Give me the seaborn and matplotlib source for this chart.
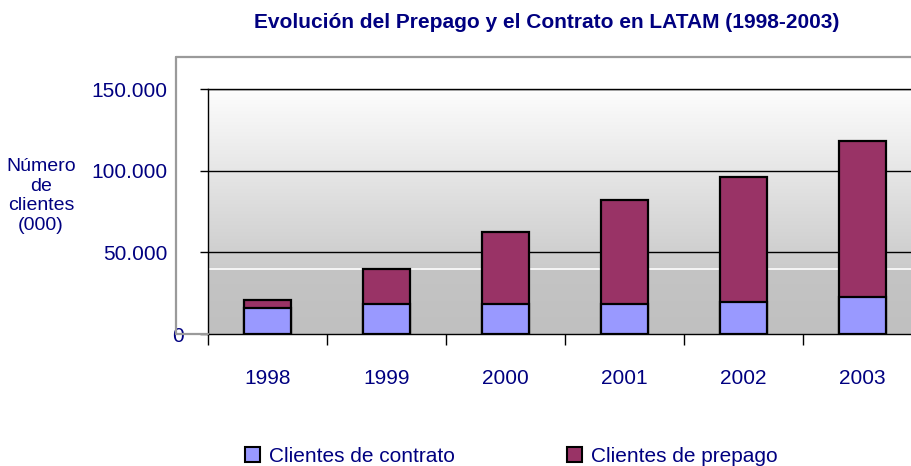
import numpy as np
import pandas as pd
import matplotlib
matplotlib.use("Agg")
import matplotlib.pyplot as plt
from matplotlib.patches import Patch
from matplotlib.lines import Line2D
from matplotlib.transforms import ScaledTranslation
import seaborn as sns

# data (thousands of clients)
years = ["1998", "1999", "2000", "2001", "2002", "2003"]
contrato = [16000, 18500, 18500, 18500, 19500, 22400]
prepago = [5000, 21600, 44100, 63700, 76500, 95900]
yticks = [0, 50000, 100000, 150000]
ytick_labels = ["0", "50.000", "100.000", "150.000"]

df = pd.DataFrame({"year": years, "contrato": contrato, "prepago": prepago})
df["total"] = df["contrato"] + df["prepago"]

sns.set_style("white")
plt.rcParams["font.family"] = ["Liberation Sans", "DejaVu Sans"]

navy = "#000080"
c_contrato = "#9999FF"
c_prepago = "#993366"

W, H = 911, 466
fig = plt.figure(figsize=(W / 100, H / 100), dpi=100)
ax = fig.add_axes([208 / W, 1 - 334 / H, 714 / W, (334 - 89) / H])

# gradient wall
grad = np.linspace(0, 1, 256).reshape(-1, 1)
ax.imshow(grad, cmap=matplotlib.colors.LinearSegmentedColormap.from_list(
    "wall", [(0, "#c0c0c0"), (0.27, "#c4c4c4"), (0.27, "#cbcbcb"), (1, "#fdfdfd")]),
    aspect="auto", extent=[-0.5, 5.5, 0, 150000], origin="lower", zorder=0)
ax.axhline(40000, color="white", lw=1.2, zorder=1)
for v in yticks[1:]:
    ax.axhline(v, color="black", lw=1.0, zorder=1)

sns.barplot(data=df, x="year", y="total", color=c_prepago, width=0.4,
            edgecolor="black", linewidth=1.6, saturation=1, ax=ax, zorder=3)
sns.barplot(data=df, x="year", y="contrato", color=c_contrato, width=0.4,
            edgecolor="black", linewidth=1.6, saturation=1, ax=ax, zorder=4)

ax.set_xlim(-0.5, 5.5)
ax.set_ylim(0, 150000)
ax.set_xlabel("")
ax.set_ylabel("")

ax.set_yticks(yticks)
ax.set_yticklabels(ytick_labels, fontsize=15, color=navy)
ax.tick_params(axis="y", left=True, length=6, width=1, color="black", pad=23)
ax.set_xticks(range(len(years)))
ax.set_xticklabels(years, fontsize=15, color=navy)
ax.tick_params(axis="x", which="major", bottom=False, length=0, pad=25)
ax.set_xticks(np.arange(-0.5, 6, 1), minor=True)
ax.tick_params(axis="x", which="minor", bottom=True, length=8, width=1, color="black")

for lbl in ax.get_yticklabels():
    if lbl.get_text() == "0":
        lbl.set_transform(lbl.get_transform() + ScaledTranslation(0.16, 0, fig.dpi_scale_trans))

for s in ax.spines.values():
    s.set_color("black")
    s.set_linewidth(1.0)

# grey outer frame
frame_c = "#9a9a9a"
fig.add_artist(Line2D([176 / W, 176 / W], [1 - 57 / H, 1 - 334 / H], color=frame_c, lw=1.6))
fig.add_artist(Line2D([176 / W, 1], [1 - 57 / H, 1 - 57 / H], color=frame_c, lw=1.6))
fig.add_artist(Line2D([176 / W, 208 / W], [1 - 334 / H, 1 - 334 / H], color=frame_c, lw=1.6))

fig.text(41 / W, 1 - 196 / H, "Número\nde\nclientes\n(000)", ha="center", va="center",
         fontsize=14, color=navy, linespacing=1.2)

fig.text(547 / W, 1 - 23 / H, "Evolución del Prepago y el Contrato en LATAM (1998-2003)",
         ha="center", va="center", fontsize=15, fontweight="bold", color=navy)

handles = [Patch(facecolor=c_contrato, edgecolor="black", linewidth=1.5),
           Patch(facecolor=c_prepago, edgecolor="black", linewidth=1.5)]
fig.legend(handles, ["Clientes de contrato", "Clientes de prepago"], loc="center left",
           bbox_to_anchor=(245 / W, 1 - 456 / H), ncol=2, frameon=False, fontsize=15,
           handlelength=0.7, handleheight=0.7, handletextpad=0.45, columnspacing=5.4,
           borderpad=0, borderaxespad=0, labelcolor=navy)

fig.savefig("out.png", dpi=100)
